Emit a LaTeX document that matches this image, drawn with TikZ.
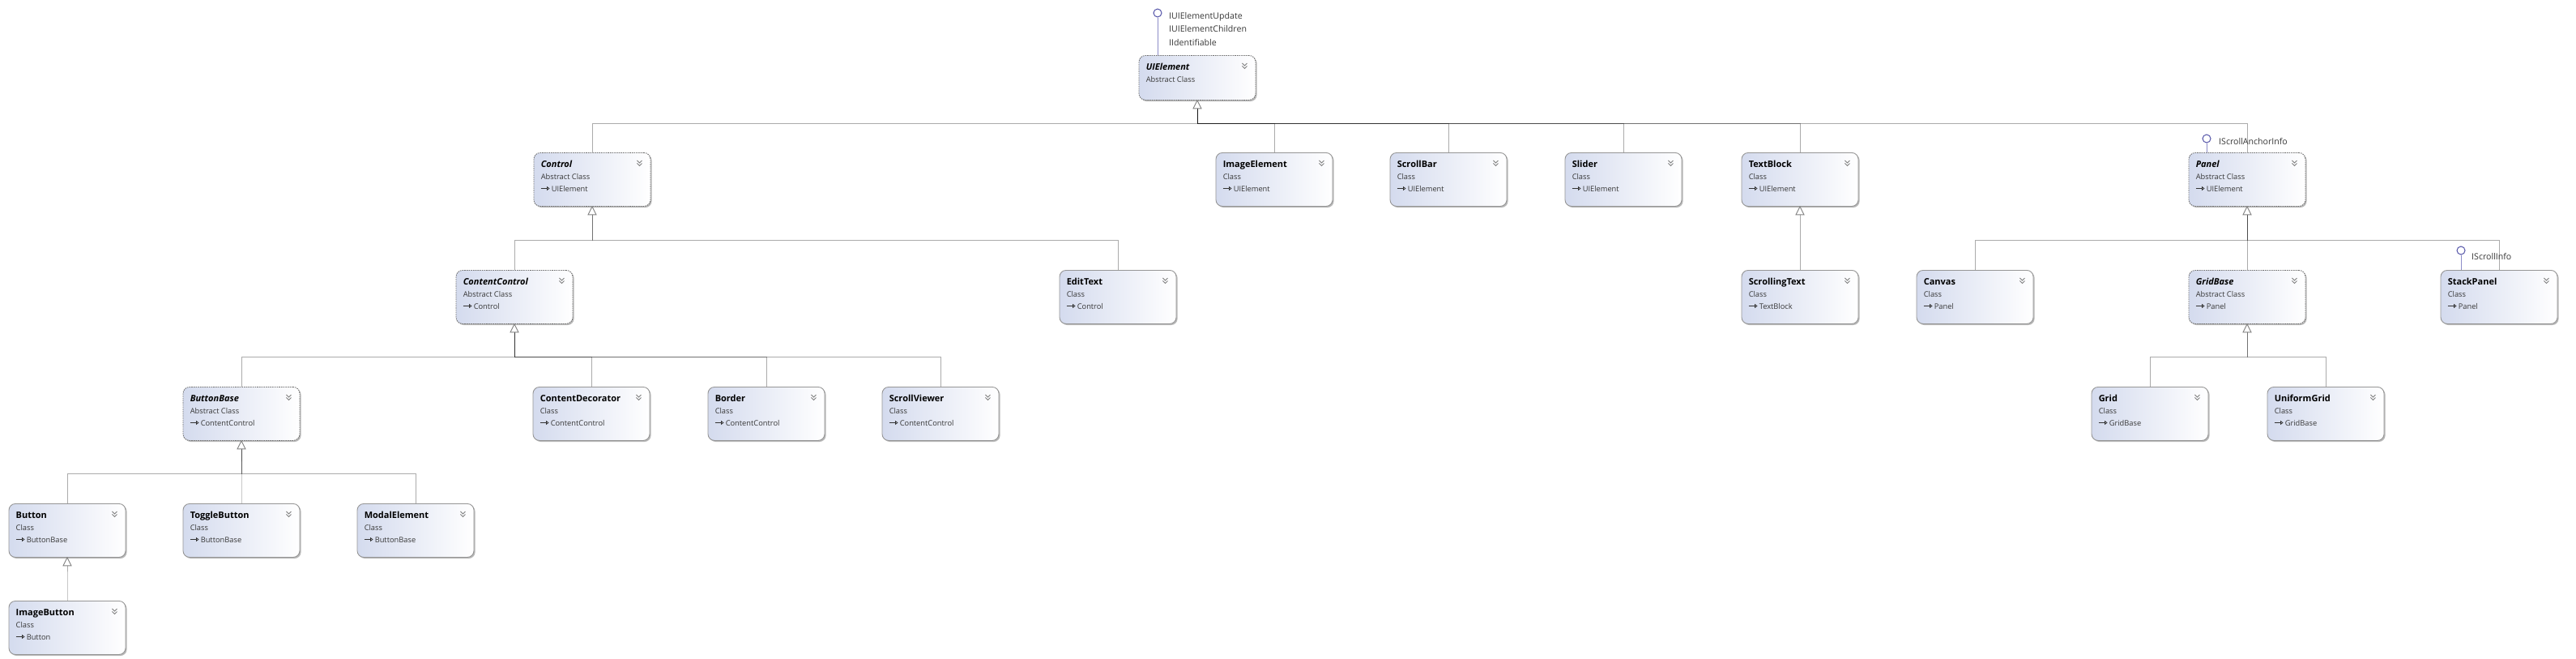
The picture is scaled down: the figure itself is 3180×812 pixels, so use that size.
\documentclass[tikz,border=0pt]{standalone}
\usepackage{fontspec}
\setmainfont{Open Sans}
\usetikzlibrary{shadows,arrows.meta,calc}
\definecolor{boxblue}{RGB}{212,219,238}
\definecolor{boxedge}{RGB}{150,150,150}
\definecolor{lollicol}{RGB}{84,84,168}
\definecolor{lolliline}{RGB}{140,140,200}
\definecolor{txtgray}{RGB}{55,55,55}
\tikzset{
 classbox/.style={rectangle, rounded corners=8pt, minimum width=144pt, minimum height=66pt, inner sep=0pt,
   left color=boxblue, right color=white, draw=boxedge, line width=0.9pt,
   drop shadow={shadow xshift=1.6pt, shadow yshift=-1.6pt, fill=black!55, opacity=0.5}},
 absbox/.style={classbox, draw=black!55, dash pattern=on 1.6pt off 1.1pt},
 uibox/.style={absbox, minimum height=55pt},
 ttl/.style={font=\fontsize{11}{13}\selectfont\bfseries, inner sep=0pt, anchor=base west},
 sub/.style={font=\fontsize{9.3}{11}\selectfont\mdseries\upshape, text=txtgray, inner sep=0pt, anchor=base west},
 iface/.style={font=\fontsize{10.6}{13}\selectfont, text=txtgray, inner sep=0pt, anchor=base west},
 chev/.style={draw=black!50, line width=0.9pt},
 baseicon/.style={draw=black!80, line width=0.8pt, -{Triangle[open,length=3.5pt,width=5pt]}},
 inhline/.style={draw=black, draw opacity=0.33, line width=1pt},
 inhtri/.style={draw=black!50, fill=white, line width=0.9pt},
 lolli/.style={circle, draw=lollicol, fill=white, line width=1pt, minimum size=10pt, inner sep=0pt},
 lolline/.style={draw=lolliline, line width=1pt},
}
\newcommand\cbox[6]{%
 \node[#4, anchor=north] (#1) at (#2,#3) {};
 \node[ttl] (#1-title) at ($(#1.north west)+(9,18)$) {#5};
 \node[sub] (#1-kind) at ($(#1.north west)+(9,33)$) {#6};
 \draw[chev] ($(#1.north east)+(-17,10)$) -- ++(3,3) -- ++(3,-3)
             ($(#1.north east)+(-17,13.5)$) -- ++(3,3) -- ++(3,-3);
}
\newcommand\cbase[2]{%
 \draw[baseicon] ($(#1.north west)+(9,44.5)$) -- ++(11,0);
 \node[sub] (#1-base) at ($(#1.north west)+(22,48)$) {#2};
}
\newcommand\inh[3]{\draw[inhline] (#1.north) |- (#2.south |- #3) -- ($(#2.south)+(0,10)$);}
\newcommand\tri[1]{\draw[inhtri] (#1.south) -- ++(-5,10) -- ++(10,0) -- cycle;}
\begin{document}
\begin{tikzpicture}[x=1pt,y=-1pt]
\fill[white] (0,0) rectangle (3180,812);
\useasboundingbox (0,0) rectangle (3180,812);
\coordinate (y152) at (0,152);
\coordinate (y296) at (0,296);
\coordinate (y440) at (0,440);
\coordinate (y584) at (0,584);
\coordinate (y712) at (0,712);

% row 0
\cbox{UIElement}{1478}{68}{uibox}{\itshape UIElement}{Abstract Class}
% row 1
\cbox{Control}{731}{188}{absbox}{\itshape Control}{Abstract Class}\cbase{Control}{UIElement}
\cbox{ImageElement}{1573}{188}{classbox}{ImageElement}{Class}\cbase{ImageElement}{UIElement}
\cbox{ScrollBar}{1788}{188}{classbox}{ScrollBar}{Class}\cbase{ScrollBar}{UIElement}
\cbox{Slider}{2004}{188}{classbox}{Slider}{Class}\cbase{Slider}{UIElement}
\cbox{TextBlock}{2222}{188}{classbox}{TextBlock}{Class}\cbase{TextBlock}{UIElement}
\cbox{Panel}{2774}{188}{absbox}{\itshape Panel}{Abstract Class}\cbase{Panel}{UIElement}
% row 2
\cbox{ContentControl}{635}{333}{absbox}{\itshape ContentControl}{Abstract Class}\cbase{ContentControl}{Control}
\cbox{EditText}{1380}{333}{classbox}{EditText}{Class}\cbase{EditText}{Control}
\cbox{ScrollingText}{2222}{333}{classbox}{ScrollingText}{Class}\cbase{ScrollingText}{TextBlock}
\cbox{Canvas}{2438}{333}{classbox}{Canvas}{Class}\cbase{Canvas}{Panel}
\cbox{GridBase}{2774}{333}{absbox}{\itshape GridBase}{Abstract Class}\cbase{GridBase}{Panel}
\cbox{StackPanel}{3085}{333}{classbox}{StackPanel}{Class}\cbase{StackPanel}{Panel}
% row 3
\cbox{ButtonBase}{298}{477}{absbox}{\itshape ButtonBase}{Abstract Class}\cbase{ButtonBase}{ContentControl}
\cbox{ContentDecorator}{730}{477}{classbox}{ContentDecorator}{Class}\cbase{ContentDecorator}{ContentControl}
\cbox{Border}{946}{477}{classbox}{Border}{Class}\cbase{Border}{ContentControl}
\cbox{ScrollViewer}{1161}{477}{classbox}{ScrollViewer}{Class}\cbase{ScrollViewer}{ContentControl}
\cbox{Grid}{2654}{477}{classbox}{Grid}{Class}\cbase{Grid}{GridBase}
\cbox{UniformGrid}{2871}{477}{classbox}{UniformGrid}{Class}\cbase{UniformGrid}{GridBase}
% row 4
\cbox{Button}{83}{621}{classbox}{Button}{Class}\cbase{Button}{ButtonBase}
\cbox{ToggleButton}{298}{621}{classbox}{ToggleButton}{Class}\cbase{ToggleButton}{ButtonBase}
\cbox{ModalElement}{513}{621}{classbox}{ModalElement}{Class}\cbase{ModalElement}{ButtonBase}
% row 5
\cbox{ImageButton}{83}{741}{classbox}{ImageButton}{Class}\cbase{ImageButton}{Button}

% inheritance
\inh{Control}{UIElement}{y152}
\inh{ImageElement}{UIElement}{y152}
\inh{ScrollBar}{UIElement}{y152}
\inh{Slider}{UIElement}{y152}
\inh{TextBlock}{UIElement}{y152}
\inh{Panel}{UIElement}{y152}
\inh{ContentControl}{Control}{y296}
\inh{EditText}{Control}{y296}
\inh{ScrollingText}{TextBlock}{y296}
\inh{Canvas}{Panel}{y296}
\inh{GridBase}{Panel}{y296}
\inh{StackPanel}{Panel}{y296}
\inh{ButtonBase}{ContentControl}{y440}
\inh{ContentDecorator}{ContentControl}{y440}
\inh{Border}{ContentControl}{y440}
\inh{ScrollViewer}{ContentControl}{y440}
\inh{Grid}{GridBase}{y440}
\inh{UniformGrid}{GridBase}{y440}
\inh{Button}{ButtonBase}{y584}
\inh{ToggleButton}{ButtonBase}{y584}
\inh{ModalElement}{ButtonBase}{y584}
\inh{ImageButton}{Button}{y712}
\tri{UIElement}\tri{Control}\tri{TextBlock}\tri{Panel}\tri{ContentControl}
\tri{GridBase}\tri{ButtonBase}\tri{Button}

% interfaces (lollipops)
\node[lolli] (UIElement-lp) at (1429,16) {};
\draw[lolline] (UIElement-lp.south) -- (UIElement-lp.south |- UIElement.north);
\node[iface] (UIElement-i1) at (1443,23) {IUIElementUpdate};
\node[iface] (UIElement-i2) at (1443,39.5) {IUIElementChildren};
\node[iface] (UIElement-i3) at (1443,56.5) {IIdentifiable};

\node[lolli] (Panel-lp) at (2724,171) {};
\draw[lolline] (Panel-lp.south) -- (Panel-lp.south |- Panel.north);
\node[iface] (Panel-i1) at (2739,178) {IScrollAnchorInfo};

\node[lolli] (StackPanel-lp) at (3038,309) {};
\draw[lolline] (StackPanel-lp.south) -- (StackPanel-lp.south |- StackPanel.north);
\node[iface] (StackPanel-i1) at (3051,320) {IScrollInfo};
\end{tikzpicture}
\end{document}
